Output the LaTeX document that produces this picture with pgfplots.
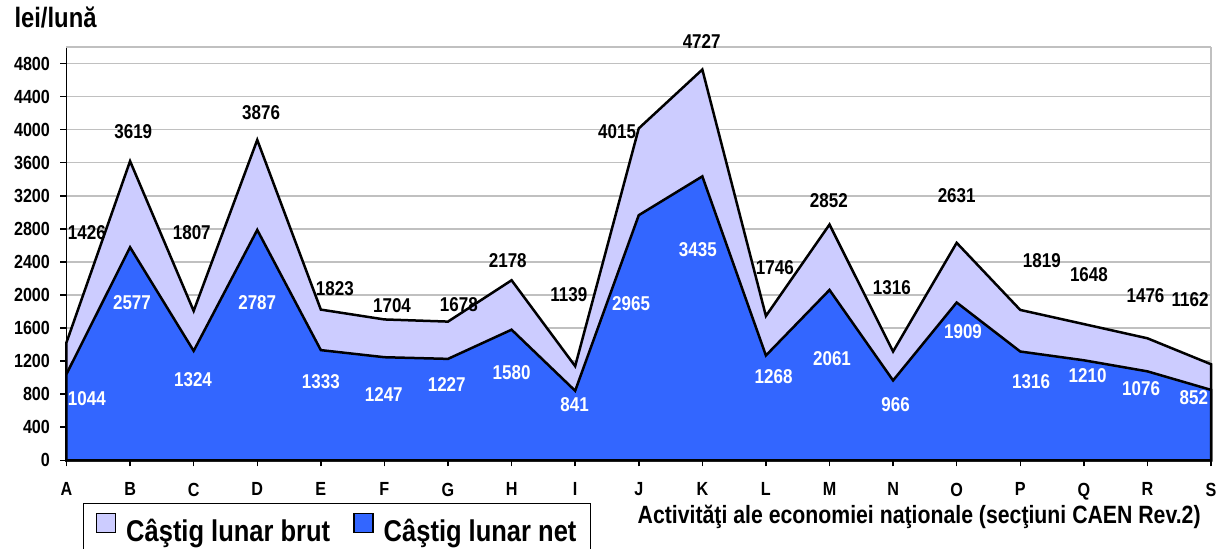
\documentclass[border=0pt]{standalone}
\usepackage{fontspec}
\setmainfont{Liberation Sans}[FakeStretch=0.85]
\usepackage{pgfplots}
\pgfplotsset{compat=1.18}
\usepackage{pgfplotstable}
\usetikzlibrary{calc}

\definecolor{brut}{HTML}{CCCCFF}
\definecolor{net}{HTML}{3366FF}
\definecolor{gridgray}{HTML}{C0C0C0}

% castig lunar pe sectiuni CAEN (A=0 ... S=18)
\pgfplotstableread{
x brut net
0  1426 1044
1  3619 2577
2  1807 1324
3  3876 2787
4  1823 1333
5  1704 1247
6  1678 1227
7  2178 1580
8  1139 841
9  4015 2965
10 4727 3435
11 1746 1268
12 2852 2061
13 1316 966
14 2631 1909
15 1819 1316
16 1648 1210
17 1476 1076
18 1162 852
}\salarii

% pozitiile etichetelor (ca in original)
\pgfplotstableread{
x y v
0.32 2757 1426
1.05 3979 3619
1.97 2755 1807
3.06 4212 3876
4.22 2076 1823
5.12 1870 1704
6.17 1882 1678
6.94 2415 2178
7.90 2003 1139
8.66 3979 4015
9.99 5070 4727
11.14 2330 1746
11.99 3142 2852
12.98 2087 1316
14.00 3203 2631
15.34 2415 1819
16.08 2245 1648
16.97 1991 1476
17.67 1943 1162
}\etbrut

\pgfplotstableread{
x y v
0.32 743 1044
1.03 1903 2577
1.99 970 1324
3.00 1903 2787
4.00 949 1333
4.99 791 1247
5.98 912 1227
7.00 1058 1580
7.99 670 841
8.88 1891 2965
9.93 2545 3435
11.12 1010 1268
12.04 1228 2061
13.04 670 966
14.10 1551 1909
15.17 949 1316
16.06 1022 1210
16.90 864 1076
17.73 755 852
}\etnet

\begin{document}
\begin{tikzpicture}
\begin{axis}[
  name=ax,
  scale only axis,
  width=1144.5pt, height=413.3pt,
  xmin=0, xmax=18, ymin=0, ymax=5000,
  clip=false,
  axis x line*=bottom, axis y line*=left,
  axis line style={black, line width=1.5pt},
  tick style={black, line width=1.5pt},
  tick align=outside,
  major tick length=6pt,
  xtick={0,...,18},
  xticklabels={A,B,C,D,E,F,G,H,I,J,K,L,M,N,O,P,Q,R,S},
  ytick={0,400,...,4800},
  scaled y ticks=false,
  /pgf/number format/assume math mode=true,
  /pgf/number format/set thousands separator={},
  ticklabel style={font=\bfseries\fontsize{19}{22}\selectfont},
  xticklabel style={yshift=-13pt},
  yticklabel style={xshift=-7pt},
  ymajorgrids,
  major grid style={gridgray, line width=1.5pt},
  extra y ticks={5000}, extra y tick labels={},
  extra y tick style={major tick length=0pt},
  extra x ticks={18}, extra x tick labels={},
  extra x tick style={major tick length=0pt, xmajorgrids},
  title={lei/lună},
  title style={at={(axis description cs:-0.0096,1.056)}, anchor=center,
    font=\bfseries\fontsize{28}{32}\selectfont},
  xlabel={Activităţi ale economiei naţionale (secţiuni CAEN Rev.2)},
  xlabel style={at={(axis description cs:0.745,-0.138)}, anchor=center,
    font=\bfseries\fontsize{25}{29}\selectfont},
  legend columns=2,
  legend style={at={(axis description cs:0.0144,-0.103)}, anchor=north west,
    draw=black, line width=1.5pt,
    font=\bfseries\fontsize{30}{34}\selectfont,
    inner ysep=9pt, inner xsep=12pt,
    /tikz/every odd column/.append style={column sep=8pt},
    /tikz/every even column/.append style={column sep=21pt}},
  legend image code/.code={\draw[#1, draw=black, line width=1.5pt] (0pt,-1pt) rectangle (19pt,18pt);},
]
\addplot[fill=brut, draw=black, line width=2.5pt] table[x=x, y=brut]{\salarii} \closedcycle;
\addlegendentry{Câştig lunar brut}
\addplot[fill=net, draw=black, line width=2.5pt] table[x=x, y=net]{\salarii} \closedcycle;
\addlegendentry{Câştig lunar net}

\addplot[forget plot, draw=none, mark=none, nodes near coords, point meta=explicit symbolic,
  nodes near coords align=center,
  every node near coord/.append style={font=\bfseries\fontsize{20}{23}\selectfont, text=black, inner sep=0pt}]
  table[x=x, y=y, meta=v]{\etbrut};
\addplot[forget plot, draw=none, mark=none, nodes near coords, point meta=explicit symbolic,
  nodes near coords align=center,
  every node near coord/.append style={font=\bfseries\fontsize{20}{23}\selectfont, text=white, inner sep=0pt}]
  table[x=x, y=y, meta=v]{\etnet};
\end{axis}
\pgfresetboundingbox
\path[use as bounding box] ($(ax.south west)+(-66.5pt,-88.7pt)$) rectangle ($(ax.south west)+(1152.5pt,460.3pt)$);
\end{tikzpicture}
\end{document}
